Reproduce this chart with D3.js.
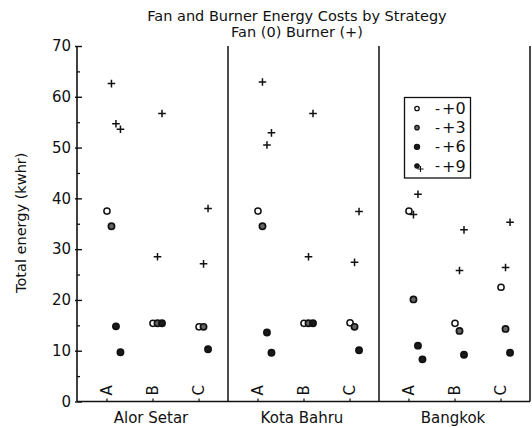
<!DOCTYPE html>
<html>
<head>
<meta charset="utf-8">
<script src="https://cdn.jsdelivr.net/npm/d3@7"></script>
<style>
  html, body { margin: 0; padding: 0; background: #fff; }
  svg text { font-family: "DejaVu Sans", "Liberation Sans", sans-serif; fill: #111; }
</style>
</head>
<body>
<svg id="chart" width="532" height="428"></svg>
<script>
// ---- data ----
const locations = ["Alor Setar", "Kota Bahru", "Bangkok"];
const strategies = ["A", "B", "C"];
const levels = [0, 3, 6, 9];
const levelLabels = ["+0", "+3", "+6", "+9"];
const yTicks = [0, 10, 20, 30, 40, 50, 60, 70];
const yMinorTicks = [5, 15, 25, 35, 45, 55, 65];

// fan energy [strategy][level]  (null = not plotted)
const fanAlorSetar = [[37.5, 34.5, 14.8, 9.7], [15.4, 15.4, 15.4, null], [14.7, 14.7, 10.3, null]];
const fanKotaBahru = [[37.5, 34.5, 13.6, 9.6], [15.4, 15.4, 15.4, null], [15.5, 14.7, 10.1, null]];
const fanBangkok   = [[37.5, 20.1, 11.0, 8.3], [15.4, 13.9, 9.2, null], [22.5, 14.3, 9.6, null]];
// burner energy [strategy][level]
const burnerAlorSetar = [[null, 62.6, 54.7, 53.6], [null, 28.5, 56.7, null], [null, 27.1, 38.0, null]];
const burnerKotaBahru = [[null, 62.9, 50.5, 52.9], [null, 28.5, 56.7, null], [null, 27.4, 37.4, null]];
const burnerBangkok   = [[null, 36.8, 40.8, null], [null, 25.8, 33.8, null], [null, 26.4, 35.3, null]];

const fanData = [fanAlorSetar, fanKotaBahru, fanBangkok];
const burnerData = [burnerAlorSetar, burnerKotaBahru, burnerBangkok];

(function () {
// ---- layout ----
const svg = d3.select("#chart");
const mLeft = 77, mRight = 530, mTop = 46, mBottom = 401.5;

const y = d3.scaleLinear().domain([0, 70]).range([mBottom, mTop]);
const xPanel = d3.scaleBand().domain(locations).range([mLeft, mRight]).paddingInner(0).paddingOuter(0);
const xStrat = d3.scalePoint().domain(strategies).range([0, xPanel.bandwidth()]).padding(0.64);
const xLevel = d3.scaleLinear().domain([0, 9]).range([0.5, 14]);

function flatten(arr, kind) {
  const out = [];
  arr.forEach((loc, li) => loc.forEach((strat, si) => strat.forEach((v, vi) => {
    if (v !== null) out.push({loc: locations[li], strat: strategies[si], level: levels[vi], li: vi, value: v, kind});
  })));
  return out;
}
const fanPts = flatten(fanData, "fan");
const burnerPts = flatten(burnerData, "burner");
const px = d => xPanel(d.loc) + xStrat(d.strat) + xLevel(d.level);

// title
svg.append("text").attr("x", 297).attr("y", 20.5).attr("text-anchor", "middle")
  .style("font-size", "14.5px").text("Fan and Burner Energy Costs by Strategy");
svg.append("text").attr("x", 297).attr("y", 36.5).attr("text-anchor", "middle")
  .style("font-size", "14.5px").text("Fan (0) Burner (+)");

// y axis
const yAxis = d3.axisLeft(y).tickValues(yTicks).tickSize(-5).tickPadding(6).tickFormat(d3.format("d"));
const gy = svg.append("g").attr("transform", `translate(${mLeft},0)`).call(yAxis);
gy.select(".domain").remove();
gy.selectAll(".tick line").attr("x1", -2).attr("stroke", "#111").attr("stroke-width", 1.4);
gy.selectAll(".tick text").style("font-size", "15px").style("font-family", "DejaVu Sans").attr("fill", "#111");
const gyMinor = svg.append("g").attr("transform", `translate(${mLeft},0)`)
  .call(d3.axisLeft(y).tickValues(yMinorTicks).tickSize(-3).tickFormat(""));
gyMinor.select(".domain").remove();
gyMinor.selectAll(".tick line").attr("stroke", "#111").attr("stroke-width", 1.3);

svg.append("line").attr("x1", mLeft).attr("x2", mLeft).attr("y1", mTop).attr("y2", mBottom)
  .attr("stroke", "#111").attr("stroke-width", 1.6);

// panel dividers + right border
locations.forEach(loc => {
  const xr = xPanel(loc) + xPanel.bandwidth();
  svg.append("line").attr("x1", xr).attr("x2", xr).attr("y1", mTop).attr("y2", mBottom)
    .attr("stroke", "#111").attr("stroke-width", 1.5);
});

// x axis baseline
svg.append("line").attr("x1", mLeft).attr("x2", mRight).attr("y1", mBottom).attr("y2", mBottom)
  .attr("stroke", "#111").attr("stroke-width", 1.5);

// per-panel strategy ticks and labels
locations.forEach(loc => {
  const g = svg.append("g").attr("transform", `translate(${xPanel(loc)},${mBottom})`)
    .call(d3.axisBottom(xStrat).tickSize(-3).tickFormat(""));
  g.select(".domain").remove();
  g.selectAll(".tick line").attr("stroke", "#111").attr("stroke-width", 1.2);
  strategies.forEach(s => {
    svg.append("text")
      .attr("transform", `translate(${xPanel(loc) + xStrat(s) + 0.5},${y(2.2)}) rotate(-90)`)
      .attr("text-anchor", "middle").attr("dominant-baseline", "central")
      .style("font-size", "15px").text(s);
  });
  svg.append("text").attr("x", xPanel(loc) + xStrat("B") - 1.5).attr("y", 423)
    .attr("text-anchor", "middle").style("font-size", "15px").text(loc);
});

// y label
svg.append("text").attr("transform", `translate(21,${y(35.2)}) rotate(-90)`)
  .attr("text-anchor", "middle").attr("dominant-baseline", "central")
  .style("font-size", "14.5px").text("Total energy (kwhr)");

// markers
const fanFill = ["#fff", "#666", "#1a1a1a", "#1a1a1a"];
svg.append("g").selectAll("circle").data(fanPts).join("circle")
  .attr("cx", px).attr("cy", d => y(d.value)).attr("r", 3.1)
  .attr("fill", d => fanFill[d.li]).attr("stroke", "#111").attr("stroke-width", d => d.li === 0 ? 1.5 : 1.7);

svg.append("g").selectAll("path").data(burnerPts).join("path")
  .attr("transform", d => `translate(${px(d)},${y(d.value)})`)
  .attr("d", () => { const a = 3.8; return `M${-a},0H${a}M0,${-a}V${a}`; })
  .attr("stroke", "#111").attr("stroke-width", 1.5).attr("fill", "none");

// legend
const lg = svg.append("g");
lg.append("rect").attr("x", 404.5).attr("y", 97.5).attr("width", 66).attr("height", 80.5)
  .attr("fill", "#fff").attr("stroke", "#111").attr("stroke-width", 1.3);
const ly = d3.scaleLinear().domain([0, 3]).range([108.5, 166]);
levelLabels.forEach((lab, i) => {
  const cy = ly(i);
  lg.append("circle").attr("cx", 417).attr("cy", cy).attr("r", i === 2 ? 2.6 : 2.2)
    .attr("fill", fanFill[i]).attr("stroke", "#111").attr("stroke-width", i === 0 ? 1.3 : 1.2);
  if (i === 3) {
    lg.append("path").attr("d", `M417.5,${cy + 3}H423.5M420.5,${cy}V${cy + 6}`)
      .attr("stroke", "#111").attr("stroke-width", 1.1).attr("fill", "none");
  }
  lg.append("text").attr("x", 437.5).attr("y", cy).attr("text-anchor", "middle")
    .attr("dominant-baseline", "central").style("font-size", "14px").text("-");
  lg.append("text").attr("x", 442).attr("y", cy).attr("dominant-baseline", "central")
    .style("font-size", "16px").text(lab);
});
})();
</script>
</body>
</html>
